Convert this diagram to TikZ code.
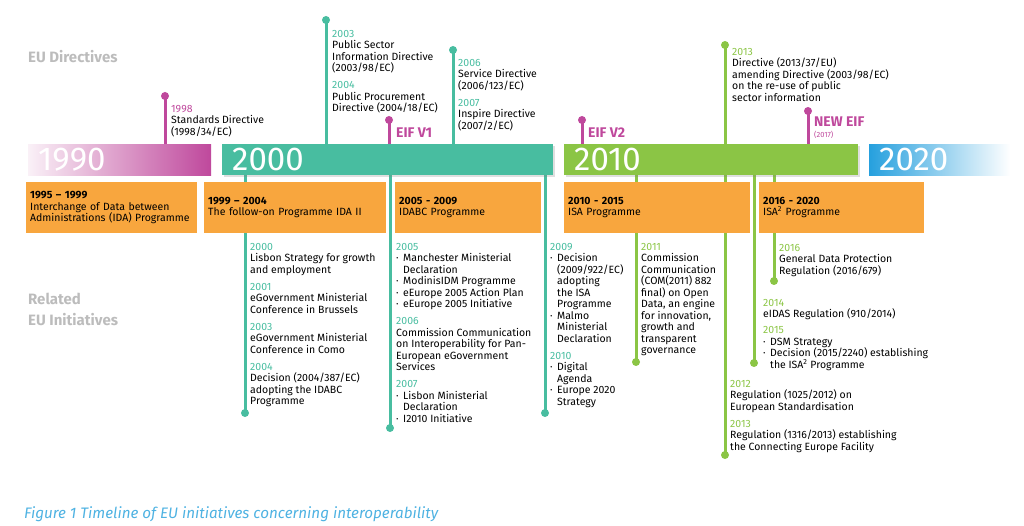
\documentclass[tikz,border=0pt]{standalone}
\usepackage{fontspec}
\setmainfont{Fira Sans}
\usetikzlibrary{positioning,shadows}

\definecolor{eumag}{RGB}{191,72,156}
\definecolor{euteal}{RGB}{72,189,160}
\definecolor{eugreen}{RGB}{139,197,69}
\definecolor{eublue}{RGB}{38,160,222}
\definecolor{euorange}{RGB}{248,166,62}
\definecolor{eugray}{RGB}{188,188,188}
\definecolor{eucap}{RGB}{78,178,226}

\newcommand{\itm}{\makebox[7pt][l]{·}}
\newcommand{\cnt}{\hspace*{7pt}}

\begin{document}
\begin{tikzpicture}[x=1pt,y=-1pt,
    txt/.style={anchor=north west,align=left,inner sep=0pt,
      font=\fontsize{10.5}{11.5}\selectfont,execute at begin node=\strut},
    pin/.style={circle,inner sep=0pt,minimum size=8pt},
    stem/.style={line width=3pt},
    bar/.style={anchor=north west,minimum height=31pt,inner xsep=10pt,
      align=left,text=white,font=\fontsize{33}{33}\selectfont},
    prog/.style={anchor=north west,fill=euorange,minimum height=51pt,
      inner xsep=4pt,align=left,font=\fontsize{10.5}{11.5}\selectfont},
    side/.style={anchor=base west,align=left,inner sep=0pt,text=eugray,
      font=\fontsize{15}{21}\selectfont\bfseries},
    eif/.style={anchor=base west,inner sep=0pt,text=eumag,
      font=\fontsize{14}{14}\selectfont\bfseries}]
  \useasboundingbox (0,0) rectangle (1024,526);

  % stems above the bars
  \foreach \n/\x/\y/\c in {d98/165/96/eumag, d03/326/20/euteal, v1/389/120/eumag,
      d06/453/50/euteal, v2/582/120/eumag, d13/725/45/eugreen, v3/808/111/eumag} {
    \coordinate (\n a) at (\x,\y);
    \coordinate (\n b) at (\x,160);
    \draw[stem,\c] (\n a) -- (\n b);
    \node[pin,fill=\c] (\n) at (\n a) {};
  }
  % stems below the bars
  \foreach \n/\x/\y/\c in {i00/245/413/euteal, i05/390/428/euteal, i09/545/413/euteal,
      i11/636/362/eugreen, i12/725/455/eugreen, i14/754/363/eugreen, i16/774/281/eugreen} {
    \coordinate (\n a) at (\x,160);
    \coordinate (\n b) at (\x,\y);
    \draw[stem,\c] (\n a) -- (\n b);
    \node[pin,fill=\c] (\n) at (\n b) {};
  }

  % decade bars
  \node[bar,minimum width=183pt,text width=163pt,left color=eumag!8,right color=eumag] (b90) at (28,144) {1990};
  \node[bar,minimum width=331pt,text width=311pt,fill=euteal,
    drop shadow={opacity=0.25,shadow xshift=1.5pt,shadow yshift=-1.5pt}] (b00) at (222,144) {2000};
  \node[bar,minimum width=294pt,text width=274pt,fill=eugreen,
    drop shadow={opacity=0.25,shadow xshift=1.5pt,shadow yshift=-1.5pt}] (b10) at (564,144) {2010};
  \node[bar,minimum width=141pt,text width=121pt,left color=eublue,right color=white] (b20) at (869,144) {2020};

  % programmes
  \node[prog,text width=163pt] (p1) at (26,182) {\textbf{1995 – 1999}\\Interchange of Data between\\Administrations (IDA) Programme};
  \node[prog,text width=174pt] (p2) at (204,182) {\textbf{1999 – 2004}\\The follow-on Programme IDA II};
  \node[prog,text width=138pt] (p3) at (395,182) {\textbf{2005 - 2009}\\IDABC Programme};
  \node[prog,text width=178pt] (p4) at (564,182) {\textbf{2010 - 2015}\\ISA Programme};
  \node[prog,text width=157pt] (p5) at (759,182) {\textbf{2016 - 2020}\\ISA\textsuperscript{2} Programme};

  % directives
  \node[txt] (t98) at (171,105) {{\color{eumag}1998}\\Standards Directive\\(1998/34/EC)};
  \node[txt] (t03) at (332,30) {{\color{euteal}2003}\\Public Sector\\Information Directive\\(2003/98/EC)\\[5.5pt]
    {\color{euteal}2004}\\Public Procurement\\Directive (2004/18/EC)};
  \node[eif] (e1) at (396,138) {EIF V1};
  \node[txt] (t06) at (458,59) {{\color{euteal}2006}\\Service Directive\\(2006/123/EC)\\[5.5pt]
    {\color{euteal}2007}\\Inspire Directive\\(2007/2/EC)};
  \node[eif] (e2) at (588,138) {EIF V2};
  \node[txt] (t13) at (732,48) {{\color{eugreen}2013}\\Directive (2013/37/EU)\\amending Directive (2003/98/EC)\\on the re-use of public\\sector information};
  \node[eif] (e3) at (814,127) {NEW EIF};
  \node[anchor=base west,inner sep=0pt,text=eumag,font=\fontsize{7.5}{7.5}\selectfont] (e3y) at (814,138) {(2017)};

  % initiatives
  \node[txt] (n00) at (250,243) {{\color{euteal}2000}\\Lisbon Strategy for growth\\and employment\\[5.5pt]
    {\color{euteal}2001}\\eGovernment Ministerial\\Conference in Brussels\\[5.5pt]
    {\color{euteal}2003}\\eGovernment Ministerial\\Conference in Como\\[5.5pt]
    {\color{euteal}2004}\\Decision (2004/387/EC)\\adopting the IDABC\\Programme};
  \node[txt] (n05) at (396,243) {{\color{euteal}2005}\\\itm Manchester Ministerial\\\cnt Declaration\\
    \itm ModinisIDM Programme\\\itm eEurope 2005 Action Plan\\\itm eEurope 2005 Initiative\\[5.5pt]
    {\color{euteal}2006}\\Commission Communication\\on Interoperability for Pan-\\European eGovernment\\Services\\[5.5pt]
    {\color{euteal}2007}\\\itm Lisbon Ministerial\\\cnt Declaration\\\itm I2010 Initiative};
  \node[txt] (n09) at (550,243) {{\color{euteal}2009}\\\itm Decision\\\cnt (2009/922/EC)\\\cnt adopting\\\cnt the ISA\\\cnt Programme\\
    \itm Malmo\\\cnt Ministerial\\\cnt Declaration\\[5.5pt]
    {\color{euteal}2010}\\\itm Digital\\\cnt Agenda\\\itm Europe 2020\\\cnt Strategy};
  \node[txt] (n11) at (641,243) {{\color{eugreen}2011}\\Commission\\Communication\\(COM(2011) 882\\final) on Open\\Data, an engine\\for innovation,\\growth and\\transparent\\governance};
  \node[txt] (n16) at (779,244) {{\color{eugreen}2016}\\General Data Protection\\Regulation (2016/679)};
  \node[txt] (n14) at (763,299) {{\color{eugreen}2014}\\eIDAS Regulation (910/2014)\\[4.5pt]
    {\color{eugreen}2015}\\\itm DSM Strategy\\\itm Decision (2015/2240) establishing\\\cnt the ISA\textsuperscript{2} Programme};
  \node[txt] (n12) at (730,380) {{\color{eugreen}2012}\\Regulation (1025/2012) on\\European Standardisation\\[5.5pt]
    {\color{eugreen}2013}\\Regulation (1316/2013) establishing\\the Connecting Europe Facility};

  % side labels and caption
  \node[side] (ld) at (28,63) {EU Directives};
  \node[side] (li) at (28,325) {Related\\EU Initiatives};
  \node[anchor=base west,inner sep=0pt,text=eucap,font=\fontsize{15.2}{15.2}\selectfont\itshape] (cap) at (24,518)
    {Figure 1 Timeline of EU initiatives concerning interoperability};
\end{tikzpicture}
\end{document}
